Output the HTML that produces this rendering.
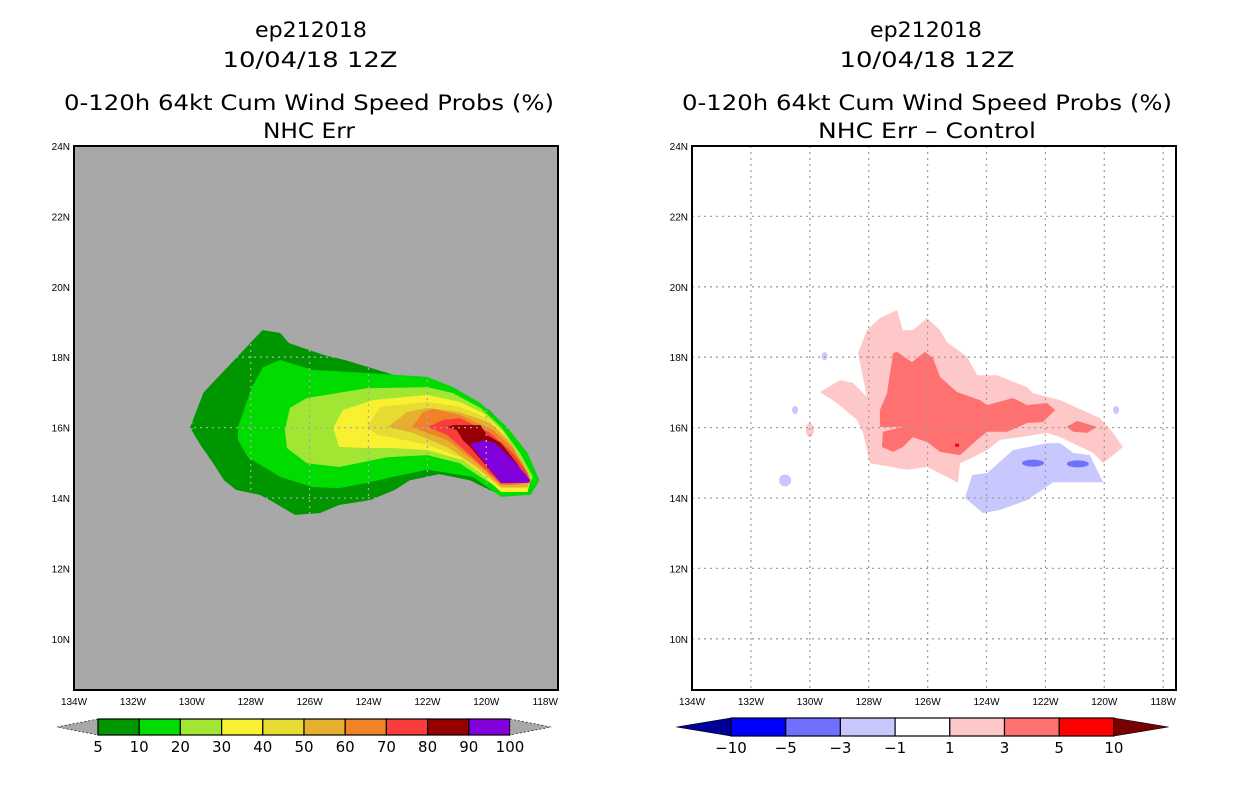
<!DOCTYPE html>
<html><head><meta charset="utf-8"><style>
body{margin:0;background:#fff;}
svg{display:block;font-family:"Liberation Sans",sans-serif;}
.t{font-size:21px;text-anchor:middle;fill:#000;font-family:"DejaVu Sans","Liberation Sans",sans-serif;}
.tk{font-size:10px;fill:#000;}
.cb{font-size:15px;fill:#000;text-anchor:middle;font-family:"DejaVu Sans","Liberation Sans",sans-serif;}
</style></head><body>
<svg id="svg" width="1236" height="800">
<g>
<text class="t" x="311" y="37" textLength="112" lengthAdjust="spacingAndGlyphs">ep212018</text>
<text class="t" x="310" y="67" textLength="175" lengthAdjust="spacingAndGlyphs">10/04/18 12Z</text>
<text class="t" x="309" y="110" textLength="490" lengthAdjust="spacingAndGlyphs">0-120h 64kt Cum Wind Speed Probs (%)</text>
<text class="t" x="309" y="138" textLength="92" lengthAdjust="spacingAndGlyphs">NHC Err</text>
</g>
<g>
<text class="t" x="926" y="37" textLength="112" lengthAdjust="spacingAndGlyphs">ep212018</text>
<text class="t" x="927" y="67" textLength="175" lengthAdjust="spacingAndGlyphs">10/04/18 12Z</text>
<text class="t" x="927" y="110" textLength="490" lengthAdjust="spacingAndGlyphs">0-120h 64kt Cum Wind Speed Probs (%)</text>
<text class="t" x="927" y="138" textLength="218" lengthAdjust="spacingAndGlyphs">NHC Err – Control</text>
</g>
<g id="left"></g>
<g id="right"></g>
<g id="cbL"></g>
<g id="cbR"></g>
</svg>
<script>
const lonTicks=[-134,-132,-130,-128,-126,-124,-122,-120,-118];
const latTicks=[24,22,20,18,16,14,12,10];
const leftLevels=[5,10,20,30,40,50,60,70,80,90,100];
const leftColors=["#009600","#00dc00","#a0e632","#faf032","#e6dc32","#e6af2d","#f08228","#fa3c3c","#960000","#8200dc"];
const rightLevels=[-10,-5,-3,-1,1,3,5,10];
const rightColors=["#000096","#0000ff","#7070ff","#c8c8ff","#ffffff","#ffc8c8","#ff7070","#ff0000","#780000"];
// left contour polygons [lon,lat]
const c5=[[-130.06,16.0],[-129.6,17.0],[-128.4,18.06],[-127.6,18.77],[-127.0,18.69],[-126.7,18.4],[-125.5,18.06],[-124.8,17.92],[-123.7,17.64],[-122.25,17.27],[-121.6,17.2],[-120.7,16.84],[-119.9,16.5],[-119.4,16.07],[-118.9,15.5],[-118.5,15.08],[-118.2,14.5],[-118.5,14.09],[-119.5,14.09],[-119.9,14.23],[-120.55,14.5],[-121.6,14.68],[-122.6,14.5],[-123.1,14.23],[-123.95,13.94],[-125.0,13.8],[-125.65,13.57],[-126.5,13.52],[-127.35,13.94],[-127.7,14.09],[-128.5,14.23],[-128.9,14.5],[-129.3,15.02],[-129.7,15.5]];
const c10=[[-128.43,16.02],[-127.96,17.15],[-127.58,17.72],[-127.0,17.92],[-125.9,17.64],[-124.05,17.55],[-122.0,17.44],[-121.13,17.15],[-120.2,16.7],[-119.3,16.02],[-118.6,15.28],[-118.2,14.5],[-118.5,14.09],[-119.5,14.03],[-120.45,14.6],[-122.0,14.8],[-123.17,14.6],[-124.05,14.43],[-125.0,14.28],[-125.9,14.31],[-127.0,14.6],[-128.1,15.16],[-128.43,15.65]];
const c20=[[-126.84,15.93],[-126.67,16.56],[-126.09,16.84],[-124.05,17.12],[-122.0,17.15],[-121.13,16.98],[-120.2,16.56],[-119.5,16.02],[-118.86,15.28],[-118.41,14.6],[-118.6,14.28],[-119.5,14.23],[-120.2,14.6],[-120.9,14.99],[-122.0,15.22],[-123.37,15.16],[-125.0,14.88],[-126.09,14.99],[-126.77,15.42]];
const c30=[[-125.2,15.99],[-124.87,16.5],[-123.85,16.78],[-122.0,16.93],[-120.9,16.73],[-120.1,16.41],[-119.43,15.88],[-118.86,15.16],[-118.5,14.5],[-118.6,14.17],[-119.5,14.17],[-120.2,14.71],[-120.8,15.08],[-122.0,15.36],[-123.17,15.42],[-124.05,15.42],[-125.0,15.45]];
const c40=[[-124.05,16.02],[-123.6,16.59],[-122.0,16.73],[-120.9,16.59],[-119.98,16.27],[-119.3,15.73],[-118.86,15.08],[-118.58,14.5],[-118.6,14.28],[-119.5,14.28],[-120.2,14.74],[-120.9,15.16],[-122.0,15.51],[-123.27,15.73],[-123.7,15.79]];
const c50=[[-123.34,16.02],[-122.69,16.44],[-122.0,16.56],[-120.9,16.44],[-119.87,16.13],[-119.2,15.59],[-118.75,14.99],[-118.5,14.5],[-118.6,14.31],[-119.5,14.31],[-120.32,14.88],[-121.33,15.45],[-122.49,15.85]];
const c60=[[-122.52,16.02],[-122.15,16.44],[-121.81,16.53],[-120.9,16.36],[-119.77,15.93],[-119.1,15.42],[-118.69,14.85],[-118.5,14.45],[-119.1,14.37],[-119.5,14.37],[-120.45,15.08],[-121.33,15.65],[-122.0,15.85]];
const c70=[[-121.98,16.02],[-121.47,16.22],[-120.9,16.27],[-119.87,15.85],[-119.1,15.28],[-118.6,14.71],[-118.5,14.43],[-119.5,14.4],[-120.55,15.22],[-121.33,15.79]];
const c80=[[-121.33,16.02],[-121.13,16.07],[-120.2,16.07],[-119.98,15.79],[-119.5,15.56],[-118.96,14.99],[-118.58,14.45],[-119.5,14.43],[-120.55,15.45],[-120.8,15.65],[-121.0,15.93]];
const c90=[[-120.55,15.53],[-120.04,15.65],[-119.7,15.56],[-119.1,15.08],[-118.5,14.5],[-118.6,14.43],[-119.5,14.43]];
const leftPolys=[c5,c10,c20,c30,c40,c50,c60,c70,c80,c90];
// right difference polygons
const pos1=[[-129.65,17.01],[-128.97,17.35],[-128.53,17.27],[-128.06,16.87],[-128.36,18.12],[-128.06,18.77],[-127.62,19.11],[-127.04,19.34],[-126.84,18.77],[-126.5,18.77],[-126.02,19.11],[-125.58,18.77],[-125.34,18.43],[-124.66,18.01],[-124.32,17.49],[-123.64,17.49],[-122.62,17.15],[-122.42,16.98],[-121.5,16.78],[-120.15,16.27],[-119.7,15.85],[-119.37,15.45],[-120.04,14.99],[-120.38,15.28],[-121.5,15.73],[-121.95,15.85],[-122.86,15.73],[-123.54,15.65],[-123.98,15.36],[-124.46,15.16],[-124.9,14.99],[-124.97,14.43],[-125.34,14.6],[-126.02,14.88],[-126.7,14.8],[-127.96,14.99],[-128.19,15.85],[-128.4,16.22],[-129.08,16.7]];
const pos3a=[[-127.62,16.5],[-127.38,16.98],[-127.17,18.12],[-127.04,18.15],[-126.53,17.86],[-126.09,18.15],[-125.82,17.98],[-125.58,17.44],[-125.0,17.01],[-124.22,16.78],[-123.98,16.64],[-123.1,16.84],[-122.62,16.64],[-121.95,16.7],[-121.67,16.5],[-122.08,16.16],[-122.62,16.13],[-123.3,15.88],[-123.98,15.88],[-124.32,15.65],[-124.9,15.22],[-125.58,15.31],[-126.02,15.59],[-126.5,15.73],[-126.84,15.45],[-127.17,15.31],[-127.55,15.45],[-127.52,15.88],[-126.84,16.02],[-127.62,16.02]];
const pos3b=[[-121.27,16.02],[-120.93,16.19],[-120.25,16.02],[-120.59,15.85],[-121.06,15.88]];
const neg1=[[-124.73,14.0],[-124.49,14.65],[-123.98,14.71],[-123.1,15.36],[-121.95,15.56],[-121.5,15.56],[-121.06,15.28],[-120.49,15.22],[-120.04,14.45],[-120.38,14.45],[-121.74,14.45],[-122.62,13.94],[-123.54,13.66],[-124.12,13.57]];
const neg3Centers=[[-122.42,14.99],[-120.9,14.97]];
const neg1Small=[[-130.84,14.5],[-129.5,18.03],[-130.5,16.5],[-119.6,16.5]];
const pos1Small=[[-130.0,15.93]];
const pos5Dot=[[-125.0,15.5]];

const NS="http://www.w3.org/2000/svg";
function mk(tag,attrs,parent){const e=document.createElementNS(NS,tag);for(const k in attrs)e.setAttribute(k,attrs[k]);parent.appendChild(e);return e;}
const panels={left:{x0:74,bg:"#a8a8a8"},right:{x0:692,bg:"#ffffff"}};
const Y0=146,Y1=690,W=484,degX=29.45,degY=35.2;
function px(p,lon){return panels[p].x0+(lon+134)*degX;}
function py(lat){return Y0+(24-lat)*degY;}
function pts(p,poly){return poly.map(d=>px(p,d[0]).toFixed(1)+","+py(d[1]).toFixed(1)).join(" ");}

function drawFrame(p,g){
  const x0=panels[p].x0;
  const bg=mk("rect",{x:x0,y:Y0,width:W,height:Y1-Y0,fill:panels[p].bg},g);
  
  
}
function drawGridAxes(p,g,gridColor){
  const x0=panels[p].x0;
  lonTicks.forEach(l=>{
    const x=px(p,l);
    if(l>-134&&x<x0+W){const ln=mk("line",{x1:x,x2:x,y1:Y0,y2:Y1,stroke:gridColor,"stroke-width":1.3,"stroke-dasharray":"2,4"},g);
    
    }
    const t=mk("text",{x:x,y:Y1+15,class:"tk","text-anchor":"middle"},g);t.textContent=Math.abs(l)+"W";
    
    
  });
  latTicks.forEach(l=>{
    const y=py(l);
    if(l<24){const ln=mk("line",{x1:x0,x2:x0+W,y1:y,y2:y,stroke:gridColor,"stroke-width":1.3,"stroke-dasharray":"2,4"},g);
    
    }
    const t=mk("text",{x:x0-4,y:y+4,class:"tk","text-anchor":"end"},g);t.textContent=l+"N";
    
    
  });
  const b=mk("rect",{x:x0,y:Y0,width:W,height:Y1-Y0,fill:"none",stroke:"#000","stroke-width":2},g);
  
  
}
// left
const gL=document.getElementById("left");
drawFrame("left",gL);
leftPolys.forEach((poly,i)=>{
  const e=mk("polygon",{points:pts("left",poly),fill:leftColors[i]},gL);
  
  
});
drawGridAxes("left",gL,"#a8a8a8");
// right
const gR=document.getElementById("right");
drawFrame("right",gR);
function rpoly(poly,col,name){const e=mk("polygon",{points:pts("right",poly),fill:col},gR);
  
  }
rpoly(pos1,rightColors[5],'diff-contour-plus1');
rpoly(pos3a,rightColors[6],'diff-contour-plus3');
rpoly(pos3b,rightColors[6],'diff-contour-plus3-east');
rpoly(neg1,rightColors[3],'diff-contour-minus1');
neg3Centers.forEach(c=>{const e=mk("ellipse",{cx:px("right",c[0]),cy:py(c[1]),rx:11,ry:3.5,fill:rightColors[2]},gR);
  
  });
neg1Small.forEach((c,i)=>{const e=mk("ellipse",{cx:px("right",c[0]),cy:py(c[1]),rx:i==0?6:3,ry:i==0?6:4,fill:rightColors[3]},gR);
  
  });
pos1Small.forEach(c=>{const e=mk("ellipse",{cx:px("right",c[0]),cy:py(c[1]),rx:4,ry:7,fill:rightColors[5]},gR);
  
  });
pos5Dot.forEach(c=>{const e=mk("rect",{x:px("right",c[0])-2,y:py(c[1])-1.5,width:4,height:3,fill:rightColors[7]},gR);
  
  });
drawGridAxes("right",gR,"#a0a0a0");
// colorbars
function colorbar(g,startX,segW,cols,labels,triCols,y,h,labelOffset){
  const n=cols.length;
  const L=mk("polygon",{points:`${startX-segW},${y+h/2} ${startX},${y} ${startX},${y+h}`,fill:triCols[0],stroke:"#000","stroke-width":0.6,"stroke-dasharray":triCols[0]=="#a8a8a8"?"2,2":"none"},g);
  
  
  cols.forEach((c,i)=>{const r=mk("rect",{x:startX+i*segW,y:y,width:segW,height:h,fill:c,stroke:"#000","stroke-width":1.2},g);
    
    });
  const ex=startX+n*segW;
  const R=mk("polygon",{points:`${ex},${y} ${ex+segW},${y+h/2} ${ex},${y+h}`,fill:triCols[1],stroke:"#000","stroke-width":0.6,"stroke-dasharray":triCols[1]=="#a8a8a8"?"2,2":"none"},g);
  
  
  labels.forEach((l,i)=>{const t=mk("text",{x:startX+(i+labelOffset)*segW,y:y+h+17,class:"cb"},g);t.textContent=String(l).replace("-","−");
    
    });
}
colorbar(document.getElementById("cbL"),98,41.2,leftColors,leftLevels,["#a8a8a8","#a8a8a8"],719,16,0);
colorbar(document.getElementById("cbR"),731,54.7,rightColors.slice(1,8),rightLevels,[rightColors[0],rightColors[8]],718,18,0);
</script>
</body></html>
